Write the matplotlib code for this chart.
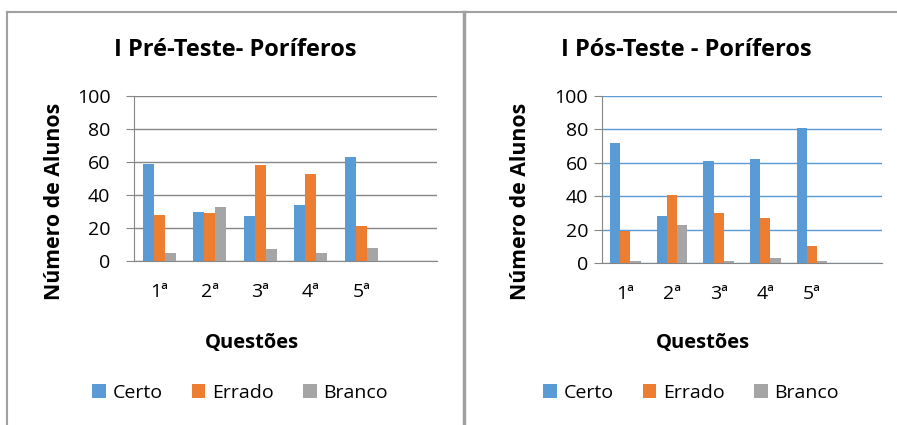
import numpy as np
import matplotlib
matplotlib.use("Agg")
import matplotlib.pyplot as plt
from matplotlib.lines import Line2D

plt.rcParams['font.family'] = ['Open Sans', 'DejaVu Sans']

# Dados
questoes = ['1ª', '2ª', '3ª', '4ª', '5ª', '']
series = ['Certo', 'Errado', 'Branco']

pre_certo = [59, 30, 27, 34, 63]
pre_errado = [28, 29, 58, 53, 21]
pre_branco = [5, 33, 7, 5, 8]

pos_certo = [72, 28, 61, 62, 81]
pos_errado = [19, 41, 30, 27, 10]
pos_branco = [1, 23, 1, 3, 1]

cores = ['#5B9BD5', '#ED7D31', '#A5A5A5']

W, H = 897, 425
fig = plt.figure(figsize=(W / 100, H / 100), dpi=100)


def px(x0, y_top, x1, y_bot):
    # retângulo em pixels -> fração da figura
    return [x0 / W, 1 - y_bot / H, (x1 - x0) / W, (y_bot - y_top) / H]


def painel(rect, dados, cor_grade, pad_y, titulo, cx, ylab_x):
    ax = fig.add_axes(px(*rect))
    x = np.arange(len(dados[0]))
    w = 0.22
    for i, (vals, cor) in enumerate(zip(dados, cores)):
        ax.bar(x + (i - 1) * w, vals, width=w, color=cor, label=series[i], zorder=3)
    ax.set_xlim(-0.5, len(questoes) - 0.5)
    ax.set_ylim(0, 100)
    ax.set_yticks(range(0, 101, 20))
    ax.set_xticks(range(len(questoes)))
    ax.set_xticklabels(questoes)
    ax.yaxis.grid(True, color=cor_grade, linewidth=1, zorder=0)
    for s in ['top', 'right']:
        ax.spines[s].set_visible(False)
    for s in ['left', 'bottom']:
        ax.spines[s].set_color('#868686')
    ax.tick_params(axis='x', length=0, pad=16, labelsize=14)
    ax.tick_params(axis='y', length=6, color='#868686', pad=pad_y, labelsize=14)

    fig.text(cx / W, 1 - 50 / H, titulo, ha='center', va='center',
             fontsize=17, fontweight='bold')
    fig.text((cx + 17) / W, 1 - 343 / H, 'Questões', ha='center', va='center',
             fontsize=14.5, fontweight='bold')
    fig.text(ylab_x / W, 1 - 201 / H, 'Número de Alunos', ha='center', va='center',
             rotation=90, fontsize=15.3, fontweight='bold')
    ax.legend(loc='center', bbox_to_anchor=((cx + 5) / W, 1 - 393 / H),
              bbox_transform=fig.transFigure, ncol=3, frameon=False,
              fontsize=14, handlelength=0.7, handleheight=0.7,
              handletextpad=0.35, columnspacing=1.5)
    return ax


painel((134, 96, 437, 261), [pre_certo, pre_errado, pre_branco],
       '#868686', 11, 'I Pré-Teste- Poríferos', 235, 54)
painel((602, 96, 882, 263), [pos_certo, pos_errado, pos_branco],
       '#5B9BD5', 4, 'I Pós-Teste - Poríferos', 686, 521)

# molduras dos quadros
borda = '#A0A0A0'
fig.add_artist(Line2D([7 / W, 1], [1 - 12 / H, 1 - 12 / H], color=borda, lw=1.5))
fig.add_artist(Line2D([7 / W, 7 / W], [0, 1 - 12 / H], color=borda, lw=1.5))
fig.add_artist(Line2D([464 / W, 464 / W], [0, 1 - 12 / H], color=borda, lw=2.5))

fig.savefig('out.png', dpi=100)
